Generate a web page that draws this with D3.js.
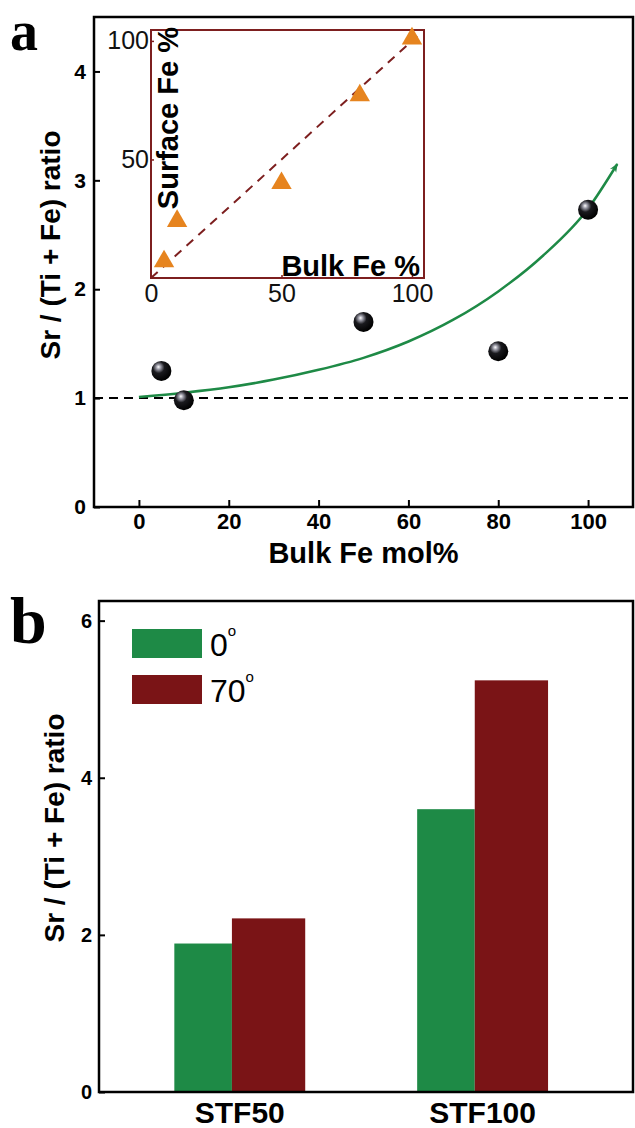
<!DOCTYPE html>
<html><head><meta charset="utf-8">
<script src="https://cdn.jsdelivr.net/npm/d3@7"></script>
<style>
html,body{margin:0;padding:0;background:#fff;}
svg{display:block;}
</style></head>
<body>
<svg id="chart" width="635" height="1128" font-family="'Liberation Sans',Arial,Helvetica,sans-serif"></svg>
<script>
// ---------- Panel a data ----------
const scatterBulkFe = [5, 10, 50, 80, 100];
const scatterRatio  = [1.25, 0.98, 1.70, 1.43, 2.73];
const fitBulkFe = [0, 10, 20, 30, 40, 50, 60, 70, 80, 90, 100, 106.5];
const fitRatio  = [1.01, 1.05, 1.10, 1.17, 1.26, 1.37, 1.52, 1.72, 1.98, 2.31, 2.74, 3.15];
const refRatio = [1];
const aXTicks = [0, 20, 40, 60, 80, 100];
const aYTicks = [0, 1, 2, 3, 4];
// inset
const insetBulk    = [5, 10, 50, 80, 100];
const insetSurface = [7, 24, 40, 77, 101];
const insetLineX = [0, 102];
const insetLineY = [0, 102];
const insetTicks = [0, 50, 100];
// ---------- Panel b data ----------
const barCategories = ["STF50", "STF100"];
const bars0deg  = [1.89, 3.60];
const bars70deg = [2.21, 5.24];
const legendLabels = ["0", "70"];
const bYTicks = [0, 2, 4, 6];

const SANS = "'Liberation Sans',Arial,Helvetica,sans-serif";
const SERIF = "'Liberation Serif','Times New Roman',Times,serif";
const svg = d3.select("#chart");
const defs = svg.append("defs");
const grad = defs.append("radialGradient").attr("id","sphere").attr("cx","38%").attr("cy","35%").attr("r","65%").attr("fx","35%").attr("fy","30%");
grad.append("stop").attr("offset","0%").attr("stop-color","#ffffff");
grad.append("stop").attr("offset","18%").attr("stop-color","#9a9aa6");
grad.append("stop").attr("offset","45%").attr("stop-color","#1a1a1e");
grad.append("stop").attr("offset","100%").attr("stop-color","#000");
defs.append("marker").attr("id","arrow").attr("viewBox","0 0 10 10").attr("refX",9).attr("refY",5)
  .attr("markerWidth",9).attr("markerHeight",9).attr("markerUnits","userSpaceOnUse").attr("orient","auto")
  .append("path").attr("d","M0,1 L10,5 L0,9 L3,5 z").attr("fill","#1e8a46");

const GREEN = "#1e8a46", RED = "#7a1416", INSET = "#7d1f1f", ORANGE = "#e6841f";

// ================= Panel a =================
const A = {l:94, r:633, t:17, b:507};
const xa = d3.scaleLinear().domain([-10,110]).range([A.l, A.r]);
const ya = d3.scaleLinear().domain([0,4.5]).range([A.b, A.t]);

const ga = svg.append("g");
ga.selectAll(".ref").data(refRatio).join("line")
  .attr("x1",A.l).attr("x2",A.r).attr("y1",d=>ya(d)).attr("y2",d=>ya(d))
  .attr("stroke","#000").attr("stroke-width",2).attr("stroke-dasharray","9,6");

// inset
const I = {l:151, r:424, t:30, b:278};
const xi = d3.scaleLinear().domain([0,104.6]).range([I.l, I.r]);
const yi = d3.scaleLinear().domain([0,104.6]).range([I.b, I.t]);
const gi = svg.append("g");
gi.append("rect").attr("x",I.l).attr("y",I.t).attr("width",I.r-I.l).attr("height",I.b-I.t)
  .attr("fill","none").attr("stroke",INSET).attr("stroke-width",2);
gi.append("path").datum(d3.zip(insetLineX, insetLineY))
  .attr("d", d3.line().x(d=>xi(d[0])).y(d=>yi(d[1])))
  .attr("stroke",INSET).attr("stroke-width",2).attr("stroke-dasharray","9,7").attr("fill","none");
gi.selectAll(".tri").data(d3.zip(insetBulk, insetSurface)).join("path")
  .attr("transform", d=>`translate(${xi(d[0])},${yi(d[1])})`)
  .attr("d", d3.symbol().type(d3.symbolTriangle).size(180))
  .attr("fill", ORANGE);
const ixAxis = d3.axisBottom(xi).tickValues(insetTicks).tickSize(-3).tickPadding(6).tickFormat(d3.format("d"));
const gix = gi.append("g").attr("transform",`translate(0,${I.b})`).call(ixAxis);
const iyAxis = d3.axisLeft(yi).tickValues(insetTicks.slice(1)).tickSize(-3).tickPadding(2).tickFormat(d3.format("d"));
const giy = gi.append("g").attr("transform",`translate(${I.l},0)`).call(iyAxis);
[gix, giy].forEach(g=>{
  g.attr("font-family",SANS);
  g.select(".domain").remove();
  g.selectAll("line").attr("stroke",INSET).attr("stroke-width",1.5);
  g.selectAll("text").attr("font-size",25).attr("fill","#111");
});
gi.append("text").attr("x",420).attr("y",276).attr("text-anchor","end")
  .attr("font-size",29).attr("font-weight","bold").text("Bulk Fe %");
gi.append("text").attr("transform","translate(178,27) rotate(-90)").attr("text-anchor","end")
  .attr("font-size",29).attr("font-weight","bold").text("Surface Fe %");

// fit curve
ga.append("path").datum(d3.zip(fitBulkFe, fitRatio))
  .attr("d", d3.line().x(d=>xa(d[0])).y(d=>ya(d[1])).curve(d3.curveMonotoneX))
  .attr("fill","none").attr("stroke",GREEN).attr("stroke-width",2.5).attr("marker-end","url(#arrow)");

// spheres
ga.selectAll(".pt").data(d3.zip(scatterBulkFe, scatterRatio)).join("circle")
  .attr("cx",d=>xa(d[0])).attr("cy",d=>ya(d[1])).attr("r",10).attr("fill","url(#sphere)");

// axes a
const axA = d3.axisBottom(xa).tickValues(aXTicks).tickSize(-7).tickPadding(6).tickFormat(d3.format("d"));
const gax = ga.append("g").attr("transform",`translate(0,${A.b})`).call(axA);
const ayA = d3.axisLeft(ya).tickValues(aYTicks).tickSize(-6).tickPadding(8).tickFormat(d3.format("d"));
const gay = ga.append("g").attr("transform",`translate(${A.l},0)`).call(ayA);
[gax,gay].forEach(g=>{
  g.attr("font-family",SANS);
  g.select(".domain").remove();
  g.selectAll("line").attr("stroke","#000").attr("stroke-width",2);
  g.selectAll("text").attr("font-weight","bold").attr("fill","#000");
});
gax.selectAll("text").attr("font-size",22);
gay.selectAll("text").attr("font-size",21);
ga.append("rect").attr("x",A.l).attr("y",A.t).attr("width",A.r-A.l).attr("height",A.b-A.t)
  .attr("fill","none").attr("stroke","#000").attr("stroke-width",2.5);
ga.append("text").attr("x",(xa(0)+xa(100))/2).attr("y",563).attr("text-anchor","middle")
  .attr("font-size",29).attr("font-weight","bold").text("Bulk Fe mol%");
ga.append("text").attr("transform","translate(60,245) rotate(-90)").attr("text-anchor","middle")
  .attr("font-size",28).attr("font-weight","bold").text("Sr / (Ti + Fe) ratio");
ga.append("text").attr("x",10).attr("y",50).attr("font-family",SERIF)
  .attr("font-size",56).attr("font-weight","bold").text("a");

// ================= Panel b =================
const B = {l:99, r:633, t:601, b:1092};
const xb = d3.scaleBand().domain(barCategories).range([B.l, B.r]).paddingInner(0.461).paddingOuter(0.33).align(0.47);
const yb = d3.scaleLinear().domain([0,6.25]).range([B.b, B.t]);
const gb = svg.append("g");
const greenFrac = 0.44;
gb.selectAll(".b0").data(d3.zip(barCategories, bars0deg)).join("rect")
  .attr("x",d=>xb(d[0])).attr("width",xb.bandwidth()*greenFrac)
  .attr("y",d=>yb(d[1])).attr("height",d=>yb(0)-yb(d[1])).attr("fill",GREEN);
gb.selectAll(".b70").data(d3.zip(barCategories, bars70deg)).join("rect")
  .attr("x",d=>xb(d[0])+xb.bandwidth()*greenFrac).attr("width",xb.bandwidth()*(1-greenFrac))
  .attr("y",d=>yb(d[1])).attr("height",d=>yb(0)-yb(d[1])).attr("fill",RED);

const ayB = d3.axisLeft(yb).tickValues(bYTicks).tickSize(-6).tickPadding(7).tickFormat(d3.format("d"));
const gby = gb.append("g").attr("transform",`translate(${B.l},0)`).call(ayB);
gby.attr("font-family",SANS);
gby.select(".domain").remove();
gby.selectAll("line").attr("stroke","#000").attr("stroke-width",2);
gby.selectAll("text").attr("font-weight","bold").attr("font-size",20).attr("fill","#000");
gb.selectAll(".cat").data(barCategories).join("text")
  .attr("x",d=>xb(d)+xb.bandwidth()/2).attr("y",1123).attr("text-anchor","middle")
  .attr("font-size",30).attr("font-weight","bold").text(d=>d);
gb.append("rect").attr("x",B.l).attr("y",B.t).attr("width",B.r-B.l).attr("height",B.b-B.t)
  .attr("fill","none").attr("stroke","#000").attr("stroke-width",2.5);
gb.append("text").attr("transform","translate(64,828) rotate(-90)").attr("text-anchor","middle")
  .attr("font-size",28).attr("font-weight","bold").text("Sr / (Ti + Fe) ratio");
gb.append("text").attr("x",10).attr("y",643).attr("font-family",SERIF)
  .attr("font-size",66).attr("font-weight","bold").text("b");

// legend
const legColors = [GREEN, RED];
const lg = gb.selectAll(".leg").data(legendLabels).join("g")
  .attr("transform",(d,i)=>`translate(132,${629 + i*46})`);
lg.append("rect").attr("width",70).attr("height",29).attr("fill",(d,i)=>legColors[i]);
const lt = lg.append("text").attr("x",78).attr("y",27).attr("font-size",32);
lt.append("tspan").text(d=>d);
lt.append("tspan").attr("font-size",15).attr("dy",-20).text("o");
</script>
</body></html>
